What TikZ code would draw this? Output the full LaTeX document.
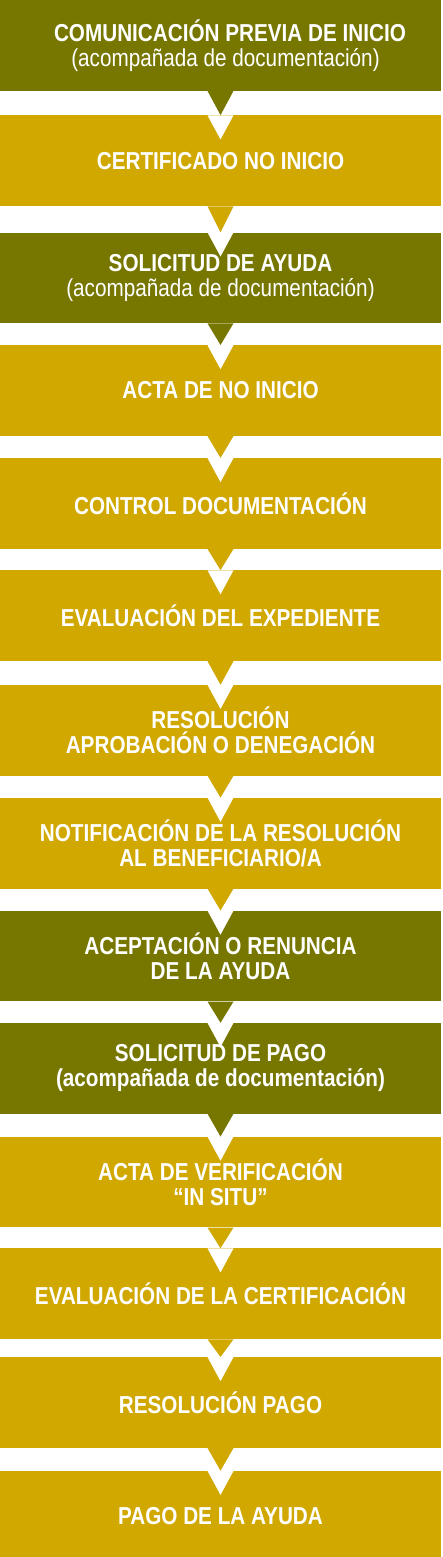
\documentclass[tikz,border=0pt]{standalone}
\usepackage{fontspec}
\setmainfont{Liberation Sans}[FakeStretch=0.845]
\usetikzlibrary{positioning}
\definecolor{oliva}{RGB}{119,119,0}
\definecolor{oro}{RGB}{209,168,0}

\begin{document}
\begin{tikzpicture}[pnode/.style={rectangle,minimum width=441pt,minimum height=90.7pt,inner sep=0pt,align=center,text=white,font=\fontsize{24.5pt}{25pt}\selectfont\bfseries},
	notch/.style={path picture={\fill[white] ([xshift=-13pt]path picture bounding box.north) -- ([xshift=13pt]path picture bounding box.north) -- ([yshift=-24pt]path picture bounding box.north) -- cycle;}}]
	\useasboundingbox (0,0) rectangle (442pt,-1557pt);
	\node[pnode,fill=oliva] (comunicacion) at (220.5pt,-45.35pt) {\hspace*{19pt}COMUNICACIÓN PREVIA DE INICIO\\\hspace*{10pt}{\mdseries (acompañada de documentación)}};
	\node[pnode,notch,fill=oro] (certificado) [below = 24.3pt of comunicacion] {CERTIFICADO NO INICIO};
	\node[pnode,notch,fill=oliva] (solicitud) [below = 26pt of certificado] {SOLICITUD DE AYUDA\\{\mdseries (acompañada de documentación)}};
	\node[pnode,notch,fill=oro] (acta) [below = 21.6pt of solicitud] {ACTA DE NO INICIO};
	\node[pnode,notch,fill=oro] (control) [below = 21.8pt of acta] {CONTROL DOCUMENTACIÓN};
	\node[pnode,notch,fill=oro] (evaluacion) [below = 21.1pt of control] {EVALUACIÓN DEL EXPEDIENTE};
	\node[pnode,notch,fill=oro] (resolucion) [below = 23.5pt of evaluacion] {RESOLUCIÓN\\APROBACIÓN O DENEGACIÓN};
	\node[pnode,notch,fill=oro] (notificacion) [below = 21.8pt of resolucion] {NOTIFICACIÓN DE LA RESOLUCIÓN\\AL BENEFICIARIO/A};
	\node[pnode,notch,fill=oliva] (aceptacion) [below = 21.8pt of notificacion] {ACEPTACIÓN O RENUNCIA\\DE LA AYUDA};
	\node[pnode,notch,fill=oliva] (solpago) [below = 21.1pt of aceptacion] {SOLICITUD DE PAGO\\(acompañada de documentación)};
	\node[pnode,notch,fill=oro] (verificacion) [below = 22.7pt of solpago] {ACTA DE VERIFICACIÓN\\“IN SITU”};
	\node[pnode,notch,fill=oro] (evalcert) [below = 20.6pt of verificacion] {EVALUACIÓN DE LA CERTIFICACIÓN};
	\node[pnode,notch,fill=oro] (respago) [below = 17.6pt of evalcert] {RESOLUCIÓN PAGO};
	\node[pnode,notch,fill=oro] (pago) [below = 22.7pt of respago] {PAGO DE LA AYUDA};
	\fill[oliva] ([xshift=-13pt]comunicacion.south) -- ([xshift=13pt]comunicacion.south) -- (certificado.north) -- cycle;
	\fill[oro] ([xshift=-13pt]certificado.south) -- ([xshift=13pt]certificado.south) -- (solicitud.north) -- cycle;
	\fill[oliva] ([xshift=-13pt]solicitud.south) -- ([xshift=13pt]solicitud.south) -- (acta.north) -- cycle;
	\fill[oro] ([xshift=-13pt]acta.south) -- ([xshift=13pt]acta.south) -- (control.north) -- cycle;
	\fill[oro] ([xshift=-13pt]control.south) -- ([xshift=13pt]control.south) -- (evaluacion.north) -- cycle;
	\fill[oro] ([xshift=-13pt]evaluacion.south) -- ([xshift=13pt]evaluacion.south) -- (resolucion.north) -- cycle;
	\fill[oro] ([xshift=-13pt]resolucion.south) -- ([xshift=13pt]resolucion.south) -- (notificacion.north) -- cycle;
	\fill[oro] ([xshift=-13pt]notificacion.south) -- ([xshift=13pt]notificacion.south) -- (aceptacion.north) -- cycle;
	\fill[oliva] ([xshift=-13pt]aceptacion.south) -- ([xshift=13pt]aceptacion.south) -- (solpago.north) -- cycle;
	\fill[oliva] ([xshift=-13pt]solpago.south) -- ([xshift=13pt]solpago.south) -- (verificacion.north) -- cycle;
	\fill[oro] ([xshift=-13pt]verificacion.south) -- ([xshift=13pt]verificacion.south) -- (evalcert.north) -- cycle;
	\fill[oro] ([xshift=-13pt]evalcert.south) -- ([xshift=13pt]evalcert.south) -- (respago.north) -- cycle;
	\fill[oro] ([xshift=-13pt]respago.south) -- ([xshift=13pt]respago.south) -- (pago.north) -- cycle;
\end{tikzpicture}
\end{document}
